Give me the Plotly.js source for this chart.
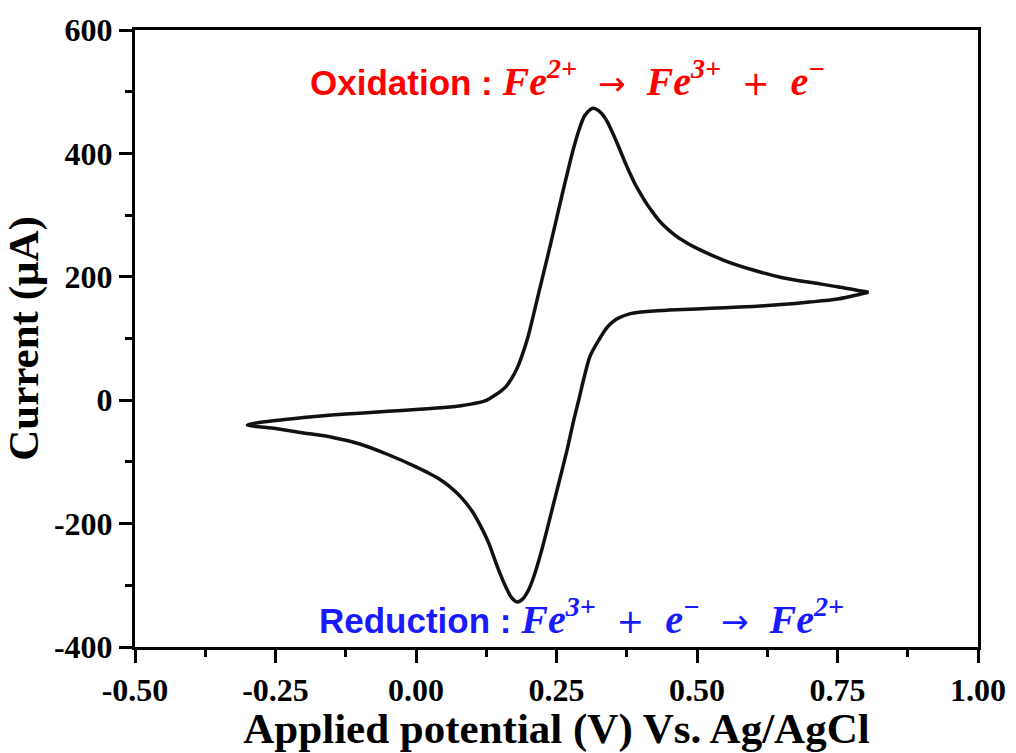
<!DOCTYPE html>
<html>
<head>
<meta charset="utf-8">
<script src="https://cdn.plot.ly/plotly-3.0.1.min.js"></script>
<style>html,body{margin:0;padding:0;background:#fff;}#chart{width:1016px;height:753px;}</style>
</head>
<body>
<div id="chart"></div>
<script>
// Anodic (forward) scan: -0.30 V -> 0.805 V
const forwardPotential = [-0.30,-0.25,-0.20,-0.15,-0.10,-0.05,0.00,0.05,0.08,0.10,0.12,0.13,0.14,0.15,0.16,0.17,0.18,0.19,0.20,0.22,0.24,0.26,0.28,0.29,0.30,0.31,0.315,0.32,0.33,0.34,0.35,0.36,0.37,0.38,0.39,0.40,0.41,0.42,0.43,0.44,0.46,0.48,0.50,0.55,0.60,0.65,0.70,0.75,0.805];
const forwardCurrent   = [-40,-33,-28,-24,-21,-18,-15,-12,-9,-6,-2,2,8,14,22,35,52,76,105,180,255,333,407,438,461,471,473,472,465,452,433,412,390,369,350,334,319,306,294,284,268,256,246,226,211,199,191,184,175];
// Cathodic (reverse) scan: 0.805 V -> -0.30 V
const reversePotential = [0.805,0.75,0.70,0.65,0.60,0.55,0.50,0.45,0.40,0.38,0.36,0.35,0.34,0.327,0.31,0.30,0.29,0.28,0.27,0.26,0.25,0.24,0.23,0.22,0.21,0.20,0.19,0.18,0.17,0.16,0.15,0.14,0.13,0.12,0.10,0.08,0.06,0.04,0.02,0.00,-0.05,-0.10,-0.15,-0.20,-0.25,-0.30];
const reverseCurrent   = [175,164,159,155,152,150,148,146,143,140,133,127,118,100,72,40,2,-35,-76,-113,-149,-185,-221,-255,-285,-308,-322,-327,-320,-303,-282,-258,-233,-213,-180,-157,-140,-127,-117,-108,-88,-71,-60,-53,-46,-40];

const xTickVals = [-0.50,-0.25,0.00,0.25,0.50,0.75,1.00];
const xTickText = ["-0.50","-0.25","0.00","0.25","0.50","0.75","1.00"];
const yTickVals = [-400,-200,0,200,400,600];
const yTickText = ["-400","-200","0","200","400","600"];

const oxidationLabel = 'Oxidation :';
const reductionLabel = 'Reduction :';

const mathStyle = 'font-family:Liberation Serif;font-style:italic;font-weight:bold;font-size:40px';
const opStyle = 'font-family:DejaVu Sans;font-style:normal;font-weight:normal;font-size:33px';
const m = s => '<span style="' + mathStyle + '">' + s + '</span>';
const op = s => '<span style="' + opStyle + '">&nbsp;&nbsp;' + s + '&nbsp;&nbsp;</span>';

const oxidationEq = m('Fe<sup>2+</sup>') + op('→') + m('Fe<sup>3+</sup>') + op('+') + m('e<sup>−</sup>');
const reductionEq = m('Fe<sup>3+</sup>') + op('+') + m('e<sup>−</sup>') + op('→') + m('Fe<sup>2+</sup>');

const potential = forwardPotential.concat(reversePotential);
const current = forwardCurrent.concat(reverseCurrent);

const data = [{
  x: potential, y: current, type: 'scatter', mode: 'lines',
  line: {color: '#111111', width: 3.5, shape: 'spline', smoothing: 0.8},
  hoverinfo: 'skip', showlegend: false
}];

const axisFont = {family: 'Liberation Serif, Times New Roman, serif', size: 32, color: '#000', weight: 'bold'};
const titleFont = {family: 'Liberation Serif, Times New Roman, serif', size: 43, color: '#000', weight: 'bold'};

const layout = {
  width: 1016, height: 753,
  margin: {l: 135, r: 38, t: 30, b: 106},
  paper_bgcolor: '#ffffff', plot_bgcolor: '#ffffff',
  showlegend: false,
  xaxis: {
    range: [-0.5, 1.0], tickmode: 'array', tickvals: xTickVals, ticktext: xTickText,
    ticks: 'outside', ticklen: 13, tickwidth: 3, tickcolor: '#000',
    minor: {ticks: 'outside', ticklen: 7, tickwidth: 3, tickcolor: '#000', dtick: 0.125, tick0: -0.5, showgrid: false},
    showline: true, linewidth: 3, linecolor: '#000', mirror: true,
    showgrid: false, zeroline: false, tickfont: axisFont,
    title: {text: 'Applied potential (V) Vs. Ag/AgCl', font: titleFont, standoff: 4}
  },
  yaxis: {
    range: [-400, 600], tickmode: 'array', tickvals: yTickVals, ticktext: yTickText,
    ticks: 'outside', ticklen: 13, tickwidth: 3, tickcolor: '#000',
    minor: {ticks: 'outside', ticklen: 7, tickwidth: 3, tickcolor: '#000', dtick: 100, tick0: -400, showgrid: false},
    showline: true, linewidth: 3, linecolor: '#000', mirror: true,
    showgrid: false, zeroline: false, tickfont: axisFont,
    title: {text: 'Current (μA)', font: titleFont, standoff: 10}
  },
  annotations: [
    {x: -0.192, y: 521, xref: 'x', yref: 'y', xanchor: 'left', yanchor: 'middle', showarrow: false,
     text: '<b>' + oxidationLabel + '</b>&nbsp;' + oxidationEq,
     font: {family: 'Liberation Sans, Arial, sans-serif', size: 35, color: '#ff0000'}},
    {x: -0.176, y: -351, xref: 'x', yref: 'y', xanchor: 'left', yanchor: 'middle', showarrow: false,
     text: '<b>' + reductionLabel + '</b>&nbsp;' + reductionEq,
     font: {family: 'Liberation Sans, Arial, sans-serif', size: 35, color: '#1a1aff'}}
  ]
};

Plotly.newPlot('chart', data, layout, {staticPlot: true, displayModeBar: false});
</script>
</body>
</html>
